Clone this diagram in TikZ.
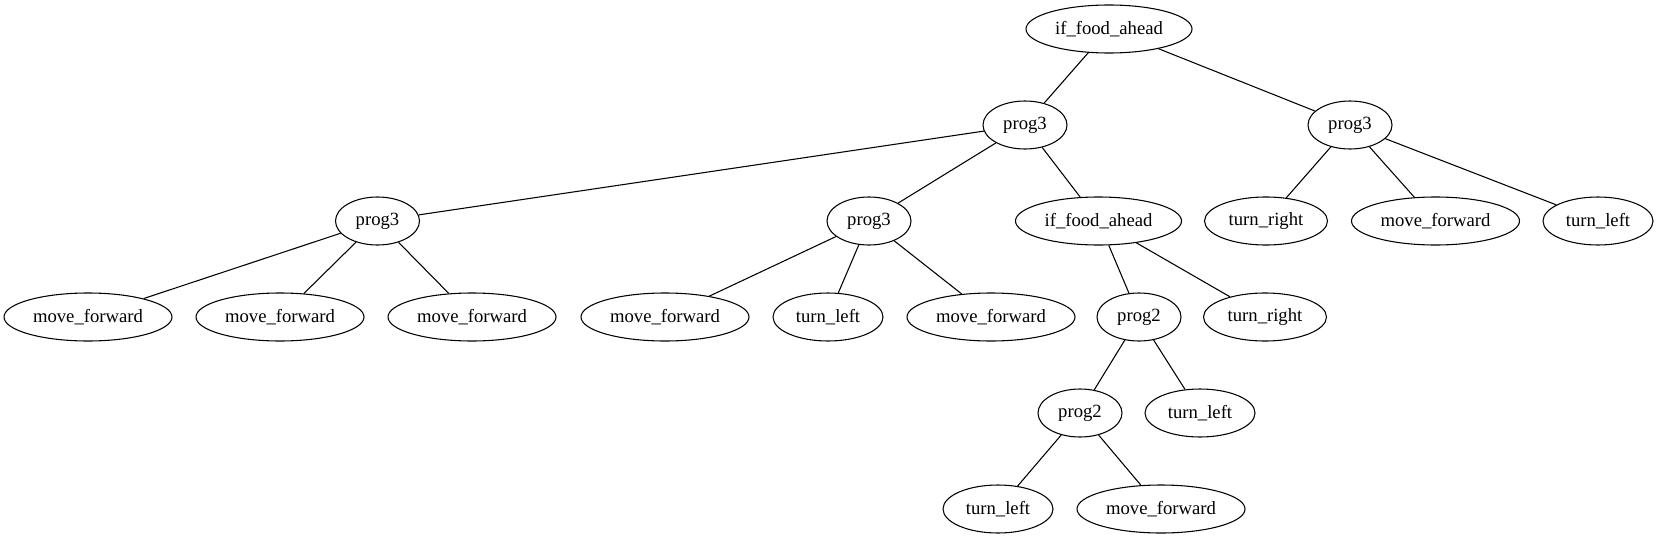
\documentclass[tikz,border=0pt]{standalone}
\usepackage{fontspec}
\setmainfont{Liberation Serif}
\usetikzlibrary{shapes.geometric}

\begin{document}
\begin{tikzpicture}[x=0.75pt, y=-0.75pt, line width=0.8pt,
        gpnode/.style={draw, ellipse, inner sep=0pt, minimum height=36pt,
                font=\fontsize{14}{16}\selectfont},
        iffood/.style={gpnode, minimum width=124.5pt},
        mvfwd/.style={gpnode, minimum width=126pt},
        trnright/.style={gpnode, minimum width=92.25pt},
        trnleft/.style={gpnode, minimum width=82.5pt},
        prognode/.style={gpnode, minimum width=63pt}]
        \useasboundingbox (0,0) rectangle (1659,539);
        % root and first level
        \node[iffood] (root) at (1109,29) {if\_food\_ahead};
        \node[prognode] (pl) at (1025,125) {prog3};
        \node[prognode] (pr) at (1350,125) {prog3};
        % second level
        \node[prognode] (pa) at (377.5,221) {prog3};
        \node[prognode] (pb) at (869,221) {prog3};
        \node[iffood] (ifb) at (1098.5,221) {if\_food\_ahead};
        \node[trnright] (rtr) at (1266,221) {turn\_right};
        \node[mvfwd] (rmf) at (1435.5,221) {move\_forward};
        \node[trnleft] (rtl) at (1598,221) {turn\_left};
        % third level
        \node[mvfwd] (amf1) at (88,317) {move\_forward};
        \node[mvfwd] (amf2) at (280,317) {move\_forward};
        \node[mvfwd] (amf3) at (472,317) {move\_forward};
        \node[mvfwd] (bmf1) at (665,317) {move\_forward};
        \node[trnleft] (btl) at (828,317) {turn\_left};
        \node[mvfwd] (bmf2) at (991,317) {move\_forward};
        \node[prognode] (p2a) at (1139,317) {prog2};
        \node[trnright] (itr) at (1265,317) {turn\_right};
        % fourth and fifth level
        \node[prognode] (p2b) at (1080,413) {prog2};
        \node[trnleft] (ctl) at (1200,413) {turn\_left};
        \node[trnleft] (dtl) at (998,509) {turn\_left};
        \node[mvfwd] (dmf) at (1161,509) {move\_forward};
        % edges
        \foreach \p/\c in {root/pl, root/pr, pl/pa, pl/pb, pl/ifb, pr/rtr, pr/rmf, pr/rtl,
                pa/amf1, pa/amf2, pa/amf3, pb/bmf1, pb/btl, pb/bmf2, ifb/p2a, ifb/itr,
                p2a/p2b, p2a/ctl, p2b/dtl, p2b/dmf}{
        \draw (\p) -- (\c);}
\end{tikzpicture}
\end{document}
